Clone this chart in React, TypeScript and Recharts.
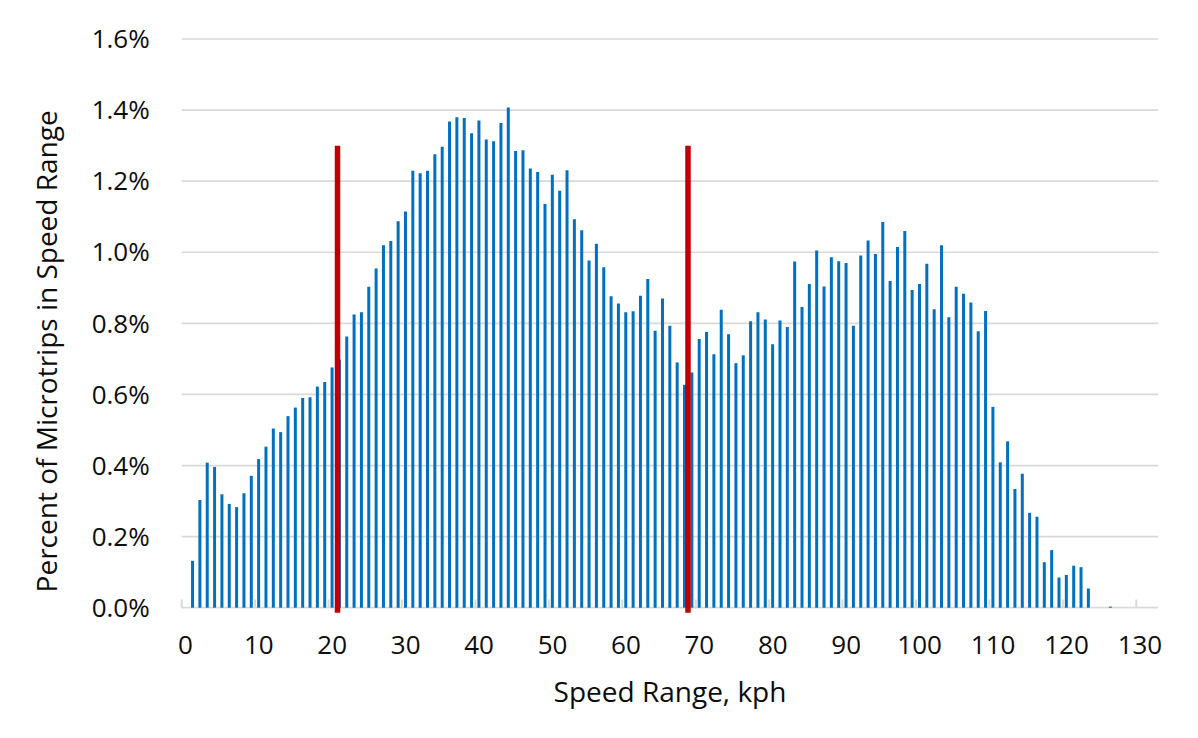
import { BarChart, Bar, XAxis, YAxis, CartesianGrid, ReferenceLine, Label } from 'recharts';

// percent of microtrips per 1 kph speed bin, bins 0..132
const pctOfMicrotrips = [
  0, 0.132, 0.303, 0.408, 0.396, 0.319, 0.292, 0.283, 0.322, 0.371,
  0.418, 0.453, 0.504, 0.494, 0.539, 0.563, 0.59, 0.592, 0.622, 0.635,
  0.676, 0.698, 0.763, 0.825, 0.831, 0.903, 0.954, 1.02, 1.032, 1.087,
  1.115, 1.229, 1.222, 1.229, 1.276, 1.297, 1.368, 1.38, 1.378, 1.335,
  1.371, 1.317, 1.312, 1.364, 1.407, 1.285, 1.287, 1.236, 1.226, 1.136,
  1.218, 1.173, 1.231, 1.093, 1.062, 0.977, 1.024, 0.958, 0.876, 0.856,
  0.831, 0.834, 0.878, 0.925, 0.779, 0.87, 0.793, 0.69, 0.627, 0.662,
  0.756, 0.776, 0.713, 0.838, 0.769, 0.688, 0.71, 0.806, 0.831, 0.811,
  0.741, 0.808, 0.79, 0.974, 0.846, 0.911, 1.005, 0.904, 0.986, 0.975,
  0.97, 0.793, 0.991, 1.033, 0.995, 1.085, 0.919, 1.015, 1.06, 0.894,
  0.911, 0.968, 0.84, 1.02, 0.817, 0.903, 0.883, 0.859, 0.778, 0.835,
  0.565, 0.409, 0.468, 0.334, 0.377, 0.267, 0.256, 0.128, 0.162, 0.085,
  0.092, 0.118, 0.114, 0.054, 0, 0, 0.003, 0, 0, 0,
  0, 0, 0,
];

const speedTicks = [0, 10, 20, 30, 40, 50, 60, 70, 80, 90, 100, 110, 120, 130];
const binBoundaries = [-0.5, 9.5, 19.5, 29.5, 39.5, 49.5, 59.5, 69.5, 79.5, 89.5, 99.5, 109.5, 119.5, 129.5];
const percentTicks = [0, 0.2, 0.4, 0.6, 0.8, 1.0, 1.2, 1.4, 1.6];

// red cut-off markers
const cutoffSpeeds = [20.72, 68.45];
const cutoffTop = 1.3;
const cutoffBottom = -0.014;
const boundaryTickHeight = 0.023;

const rows = pctOfMicrotrips.map((pct, speed) => ({ speed, pct }));

const FONT = '"Open Sans", "Noto Sans", sans-serif';
const GRID = '#d9d9d9';
const INK = '#0d0d0d';

export default function App() {
  return (
    <div style={{ position: 'relative', width: 1190, height: 730 }}>
      <div
        style={{
          position: 'absolute',
          left: -1,
          top: -1,
          width: 1191,
          height: 731,
          borderLeft: `1px solid ${GRID}`,
          borderTop: `1px solid ${GRID}`,
        }}
      />
      <BarChart
        width={1190}
        height={730}
        data={rows}
        margin={{ top: 31, right: 39.7, bottom: 30.3, left: 0 }}
        style={{ fontFamily: FONT }}
      >
        <CartesianGrid vertical={false} stroke={GRID} strokeWidth={1.7} />
        <XAxis
          dataKey="speed"
          type="number"
          domain={[-0.5, 132.5]}
          ticks={speedTicks}
          interval={0}
          height={100}
          tickSize={0}
          tickLine={false}
          tickMargin={28}
          axisLine={false}
          tick={{ fontSize: 26, fill: INK, fontFamily: FONT }}
        >
          <Label
            content={({ viewBox }: any) => (
              <text
                x={viewBox.x + viewBox.width / 2}
                y={viewBox.y + 94}
                textAnchor="middle"
                fontSize={28}
                fill={INK}
                fontFamily={FONT}
              >
                Speed Range, kph
              </text>
            )}
          />
        </XAxis>
        <YAxis
          width={173.7}
          domain={[0, 1.6]}
          ticks={percentTicks}
          interval={0}
          tickSize={0}
          tickLine={false}
          tickMargin={32}
          axisLine={false}
          tickFormatter={(v: number) => `${v.toFixed(1)}%`}
          tick={{ fontSize: 26, fill: INK, fontFamily: FONT }}
        >
          <Label
            content={({ viewBox }: any) => {
              const cx = viewBox.x + 38;
              const cy = viewBox.y + viewBox.height / 2 + 28;
              return (
                <text
                  x={cx}
                  y={cy}
                  transform={`rotate(-90 ${cx} ${cy})`}
                  textAnchor="middle"
                  dominantBaseline="central"
                  fontSize={28}
                  fill={INK}
                  fontFamily={FONT}
                >
                  Percent of Microtrips in Speed Range
                </text>
              );
            }}
          />
        </YAxis>
        {binBoundaries.map((b) => (
          <ReferenceLine
            key={`tick-${b}`}
            segment={[
              { x: b, y: 0 },
              { x: b, y: boundaryTickHeight },
            ]}
            stroke={GRID}
            strokeWidth={2}
            ifOverflow="visible"
          />
        ))}
        <Bar dataKey="pct" fill="#0070c0" barSize={3} isAnimationActive={false} />
        {cutoffSpeeds.map((s) => (
          <ReferenceLine
            key={`cut-${s}`}
            segment={[
              { x: s, y: cutoffBottom },
              { x: s, y: cutoffTop },
            ]}
            stroke="#c00000"
            strokeWidth={5.5}
            ifOverflow="visible"
          />
        ))}
      </BarChart>
    </div>
  );
}
